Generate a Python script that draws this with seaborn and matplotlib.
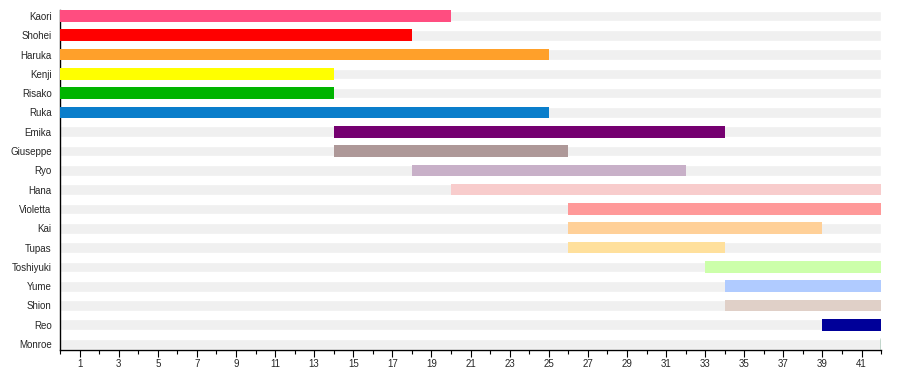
import numpy as np
import matplotlib
matplotlib.use("Agg")
from matplotlib import pyplot as plt
from matplotlib.ticker import MultipleLocator, FixedLocator
import pandas as pd
import seaborn as sns

sns.set_theme(style="white")
plt.rcParams['font.family'] = ['Liberation Sans', 'DejaVu Sans']

# people and the span of days each one covers
names = ['Kaori', 'Shohei', 'Haruka', 'Kenji', 'Risako', 'Ruka', 'Emika', 'Giuseppe', 'Ryo',
         'Hana', 'Violetta', 'Kai', 'Tupas', 'Toshiyuki', 'Yume', 'Shion', 'Reo', 'Monroe']
start = [0, 0, 0, 0, 0, 0, 14, 14, 18, 20, 26, 26, 26, 33, 34, 34, 39, 42]
end = [20, 18, 25, 14, 14, 25, 34, 26, 32, 42, 42, 39, 34, 42, 42, 42, 42, 42]
colors = ['#ff4d80', '#ff0000', '#ffa02a', '#ffff00', '#00b400', '#0a7ecb', '#750070', '#ae9898',
          '#c8b0c8', '#f8cccc', '#ff9999', '#ffd098', '#ffe09c', '#ccffaa', '#b0cbff', '#e0d0c8',
          '#000099', '#006633']
total_days = 42
tick_days = list(range(1, 42, 2))

df = pd.DataFrame({'name': names, 'start': start, 'end': end})
df['track'] = total_days

fig = plt.figure(figsize=(9, 3.7), dpi=100)
ax = fig.add_axes([0.0667, 0.0554, 0.9123, 0.9176])

# grey background tracks
sns.barplot(data=df, x='track', y='name', orient='h', color='#f0f0f0', width=0.55,
            saturation=1, ax=ax)

# coloured spans
pos = np.arange(len(names))
dur = df['end'] - df['start']
ax.barh(pos, dur, left=df['start'], height=0.6, color=colors, edgecolor=colors,
        linewidth=[1 if d == 0 else 0 for d in dur], zorder=3)

ax.set_xlim(0, total_days)
ax.set_ylim(len(names) - 1 + 0.28, -0.31)
ax.set_xlabel('')
ax.set_ylabel('')
ax.xaxis.set_major_locator(FixedLocator(tick_days))
ax.xaxis.set_minor_locator(MultipleLocator(2))
ax.tick_params(axis='x', which='major', bottom=True, length=5, width=0.8, labelsize=7,
               pad=2, color='black')
ax.tick_params(axis='x', which='minor', bottom=True, length=3, width=0.8, color='black')
ax.tick_params(axis='y', left=False, length=0, labelsize=7, pad=6)
sns.despine(ax=ax, top=True, right=True)
for s in ['left', 'bottom']:
    ax.spines[s].set_color('black')
    ax.spines[s].set_linewidth(1)

plt.savefig('out.png', dpi=100)
